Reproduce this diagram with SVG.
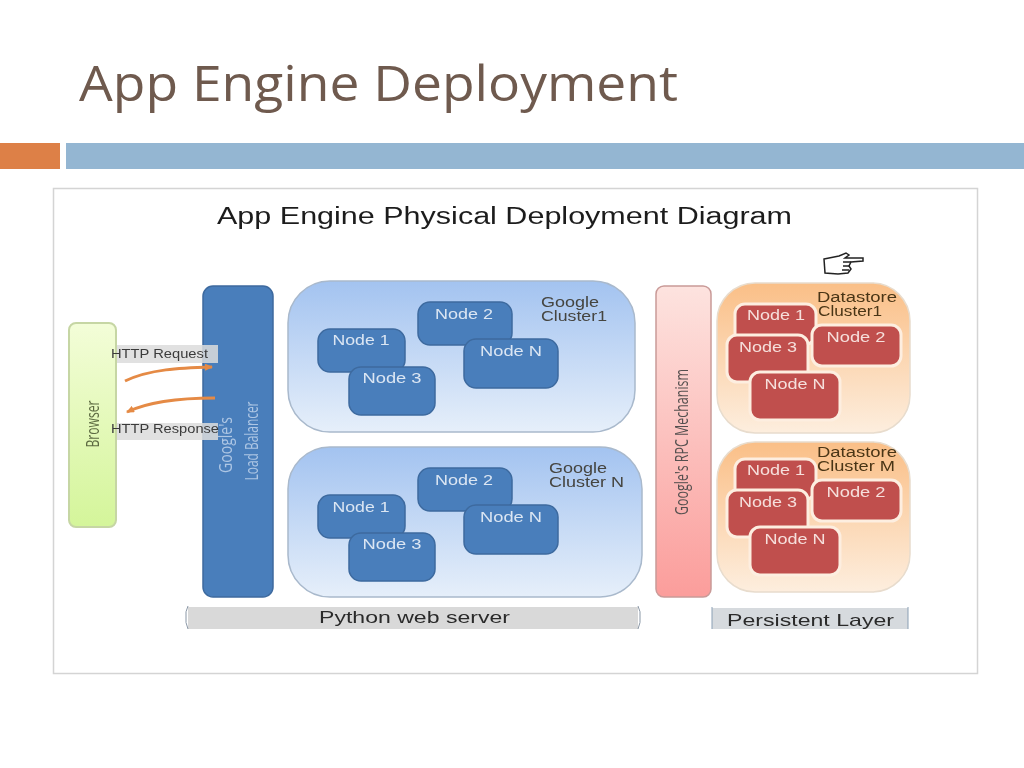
<svg xmlns="http://www.w3.org/2000/svg" width="1024" height="768" viewBox="0 0 1024 768">
<style>
text{font-family:"Liberation Sans",Arial,sans-serif}
.title{font-family:"Open Sans","Noto Sans",sans-serif;font-size:50px;fill:#6f5a4e}
.head{font-size:23px;fill:#1f1f1f}
.lbl{font-size:13.5px;fill:#3b3b3b}
.cl{font-size:14px;fill:#45443f}
.ds{font-size:14px;fill:#4a3515}
.bn{fill:#4a7ebb;stroke:#3d6a9f;stroke-width:1.5}
.rn{fill:#c0504d;stroke:#fdeee0;stroke-width:3}
.nt{font-size:14px;fill:#dbe6f3;text-anchor:middle}
.rt{font-size:14px;fill:#f6dfdc;text-anchor:middle}
.band{fill:#d9d9d9}
.vert{font-family:"Open Sans","Noto Sans",sans-serif;font-size:18px;text-anchor:middle}
.arrow{fill:none;stroke:#e58a45;stroke-width:3}
</style>
<defs>
<linearGradient id="gb" x1="0" y1="0" x2="0" y2="1"><stop offset="0" stop-color="#a3c3f0"/><stop offset="1" stop-color="#e6effa"/></linearGradient>
<linearGradient id="go" x1="0" y1="0" x2="0" y2="1"><stop offset="0" stop-color="#fabf87"/><stop offset="1" stop-color="#fdeede"/></linearGradient>
<linearGradient id="gg" x1="0" y1="0" x2="0" y2="1"><stop offset="0" stop-color="#f3fdd8"/><stop offset="1" stop-color="#d4f59a"/></linearGradient>
<linearGradient id="gr" x1="0" y1="0" x2="0" y2="1"><stop offset="0" stop-color="#fde3df"/><stop offset="1" stop-color="#fb9d9b"/></linearGradient>
<marker id="ah" markerUnits="userSpaceOnUse" markerWidth="8" markerHeight="7" refX="7" refY="3.500" orient="auto"><path d="M0 0L8 3.500L0 7z" fill="#e58a45"/></marker>
<filter id="soft" x="-5%" y="-5%" width="110%" height="110%"><feGaussianBlur stdDeviation="0.6"/></filter>
</defs>
<rect width="1024" height="768" fill="#fff"/>
<text class="title" x="79" y="101" textLength="599" lengthAdjust="spacingAndGlyphs">App Engine Deployment</text>
<rect x="0" y="143" width="60" height="26" fill="#dd8047"/>
<rect x="66" y="143" width="958" height="26" fill="#94b6d2"/>
<rect x="53.500" y="188.500" width="924" height="485" fill="#fff" stroke="#d4d4d4" stroke-width="1.500"/>
<g filter="url(#soft)">
<text class="head" x="217" y="224" textLength="575" lengthAdjust="spacingAndGlyphs">App Engine Physical Deployment Diagram</text>
<g id="browser">
<rect x="69" y="323" width="47" height="204" rx="7" fill="url(#gg)" stroke="#c6d6a4" stroke-width="2"/>
<text class="vert" transform="translate(99 424) rotate(-90)" fill="#5d6b42" textLength="47" lengthAdjust="spacingAndGlyphs">Browser</text>
</g>
<g id="load-balancer">
<rect x="203" y="286" width="70" height="311" rx="10" fill="#4a7ebb" stroke="#3d6a9f" stroke-width="1.500"/>
<text class="vert" transform="translate(232 445) rotate(-90)" fill="#adc6e4" textLength="56" lengthAdjust="spacingAndGlyphs">Google's</text>
<text class="vert" transform="translate(258 441) rotate(-90)" fill="#adc6e4" textLength="79" lengthAdjust="spacingAndGlyphs">Load Balancer</text>
</g>
<g id="http-request">
<rect x="117" y="345" width="101" height="18" fill="#dcdcdc" opacity="0.85"/>
<text class="lbl" x="111" y="358" textLength="97" lengthAdjust="spacingAndGlyphs">HTTP Request</text>
</g>
<g id="http-response">
<rect x="117" y="423" width="101" height="17" fill="#dcdcdc" opacity="0.85"/>
<text class="lbl" x="111" y="433" textLength="108" lengthAdjust="spacingAndGlyphs">HTTP Response</text>
</g>
<g id="connectors">
<path class="arrow" d="M125 381C150 369 180 368 212 367" marker-end="url(#ah)"/>
<path class="arrow" d="M215 398C180 398 150 401 127 412" marker-end="url(#ah)"/>
</g>
<g id="cluster-1">
<rect x="288" y="281" width="347" height="151" rx="42" fill="url(#gb)" stroke="#a9b9cc" stroke-width="1.500"/>
<text class="cl" x="541" y="307" textLength="58" lengthAdjust="spacingAndGlyphs">Google</text><text class="cl" x="541" y="321" textLength="66" lengthAdjust="spacingAndGlyphs">Cluster1</text>
</g>
<g id="c1-node-1"><rect class="bn" x="318" y="329" width="87" height="43" rx="12"/><text class="nt" x="361" y="345" textLength="57" lengthAdjust="spacingAndGlyphs">Node 1</text></g>
<g id="c1-node-2"><rect class="bn" x="418" y="302" width="94" height="43" rx="12"/><text class="nt" x="464" y="319" textLength="58" lengthAdjust="spacingAndGlyphs">Node 2</text></g>
<g id="c1-node-3"><rect class="bn" x="349" y="367" width="86" height="48" rx="12"/><text class="nt" x="392" y="383" textLength="59" lengthAdjust="spacingAndGlyphs">Node 3</text></g>
<g id="c1-node-n"><rect class="bn" x="464" y="339" width="94" height="49" rx="12"/><text class="nt" x="511" y="356" textLength="62" lengthAdjust="spacingAndGlyphs">Node N</text></g>
<g id="cluster-n">
<rect x="288" y="447" width="354" height="150" rx="42" fill="url(#gb)" stroke="#a9b9cc" stroke-width="1.500"/>
<text class="cl" x="549" y="473" textLength="58" lengthAdjust="spacingAndGlyphs">Google</text><text class="cl" x="549" y="487" textLength="75" lengthAdjust="spacingAndGlyphs">Cluster N</text>
</g>
<g id="cn-node-1"><rect class="bn" x="318" y="495" width="87" height="43" rx="12"/><text class="nt" x="361" y="512" textLength="57" lengthAdjust="spacingAndGlyphs">Node 1</text></g>
<g id="cn-node-2"><rect class="bn" x="418" y="468" width="94" height="43" rx="12"/><text class="nt" x="464" y="485" textLength="58" lengthAdjust="spacingAndGlyphs">Node 2</text></g>
<g id="cn-node-3"><rect class="bn" x="349" y="533" width="86" height="48" rx="12"/><text class="nt" x="392" y="549" textLength="59" lengthAdjust="spacingAndGlyphs">Node 3</text></g>
<g id="cn-node-n"><rect class="bn" x="464" y="505" width="94" height="49" rx="12"/><text class="nt" x="511" y="522" textLength="62" lengthAdjust="spacingAndGlyphs">Node N</text></g>
<g id="rpc">
<rect x="656" y="286" width="55" height="311" rx="8" fill="url(#gr)" stroke="#c99a98" stroke-width="1.500"/>
<text class="vert" transform="translate(688 442) rotate(-90)" fill="#55504f" textLength="146" lengthAdjust="spacingAndGlyphs">Google's RPC Mechanism</text>
</g>
<g id="datastore-1">
<rect x="717" y="283" width="193" height="150" rx="38" fill="url(#go)" stroke="#e8dccd" stroke-width="1.500"/>
<text class="ds" x="817" y="302" textLength="80" lengthAdjust="spacingAndGlyphs">Datastore</text><text class="ds" x="818" y="316" textLength="64" lengthAdjust="spacingAndGlyphs">Cluster1</text>
</g>
<g id="d1-node-1"><rect class="rn" x="735" y="304" width="81" height="40" rx="10"/><text class="rt" x="776" y="320" textLength="58" lengthAdjust="spacingAndGlyphs">Node 1</text></g>
<g id="d1-node-2"><rect class="rn" x="812" y="325" width="89" height="41" rx="10"/><text class="rt" x="856" y="342" textLength="59" lengthAdjust="spacingAndGlyphs">Node 2</text></g>
<g id="d1-node-3"><rect class="rn" x="727" y="335" width="81" height="47" rx="10"/><text class="rt" x="768" y="352" textLength="58" lengthAdjust="spacingAndGlyphs">Node 3</text></g>
<g id="d1-node-n"><rect class="rn" x="750" y="372" width="90" height="48" rx="10"/><text class="rt" x="795" y="389" textLength="61" lengthAdjust="spacingAndGlyphs">Node N</text></g>
<g id="datastore-m">
<rect x="717" y="442" width="193" height="150" rx="38" fill="url(#go)" stroke="#e8dccd" stroke-width="1.500"/>
<text class="ds" x="817" y="457" textLength="80" lengthAdjust="spacingAndGlyphs">Datastore</text><text class="ds" x="817" y="471" textLength="78" lengthAdjust="spacingAndGlyphs">Cluster M</text>
</g>
<g id="dm-node-1"><rect class="rn" x="735" y="459" width="81" height="40" rx="10"/><text class="rt" x="776" y="475" textLength="58" lengthAdjust="spacingAndGlyphs">Node 1</text></g>
<g id="dm-node-2"><rect class="rn" x="812" y="480" width="89" height="41" rx="10"/><text class="rt" x="856" y="497" textLength="59" lengthAdjust="spacingAndGlyphs">Node 2</text></g>
<g id="dm-node-3"><rect class="rn" x="727" y="490" width="81" height="47" rx="10"/><text class="rt" x="768" y="507" textLength="58" lengthAdjust="spacingAndGlyphs">Node 3</text></g>
<g id="dm-node-n"><rect class="rn" x="750" y="527" width="90" height="48" rx="10"/><text class="rt" x="795" y="544" textLength="61" lengthAdjust="spacingAndGlyphs">Node N</text></g>
<g id="python-web-server">
<rect class="band" x="188" y="607" width="450" height="22"/>
<path d="M188 606q-3 6-2 11q-1 5 2 12M638 606q3 6 2 11q1 5-2 12" fill="none" stroke="#8a97a6" stroke-width="1"/>
<text x="319" y="623" font-size="17" fill="#2b2b2b" textLength="191" lengthAdjust="spacingAndGlyphs">Python web server</text>
</g>
<g id="persistent-layer">
<rect x="712" y="608" width="196" height="21" fill="#d6dade"/>
<path d="M712 607v22M908 607v22" stroke="#8a9fb4" stroke-width="1"/>
<text x="727" y="626" font-size="17" fill="#2b2b2b" textLength="167" lengthAdjust="spacingAndGlyphs">Persistent Layer</text>
</g>
<g id="hand-cursor" fill="none" stroke="#222" stroke-width="1.500">
<path d="M824 259L839 256L846 253L849 255L845 258L863 258L863 261L851 262L849 266L851 269L848 273L838 274L825 273Z"/>
<path d="M843 262L851 262M843 266L850 266M842 270L849 270"/>
</g>
</g>
</svg>
